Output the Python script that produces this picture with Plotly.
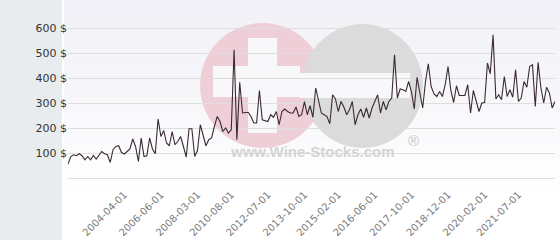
import plotly.graph_objects as go

months = """2002-08 2002-09 2002-10 2002-11 2002-12 2003-01 2003-02 2003-03 2003-04 2003-05
2003-06 2003-07 2003-08 2003-09 2003-10 2003-11 2003-12 2004-01 2004-02 2004-03
2004-04 2004-06 2004-08 2004-10 2004-12 2005-02 2005-04 2005-06 2005-08 2005-10 2005-12 2006-02 2006-04
2006-06 2006-08 2006-09 2006-11 2007-01 2007-02 2007-04 2007-05 2007-07 2007-08 2007-10 2007-11 2008-01
2008-03 2008-06 2008-08 2008-11 2009-01 2009-04 2009-06 2009-09 2009-11 2010-01 2010-03 2010-06
2010-08 2010-10 2010-11 2011-01 2011-03 2011-05 2011-06 2011-08 2011-10 2011-12 2012-01 2012-03 2012-05
2012-07 2012-08 2012-09 2012-10 2012-11 2012-12 2013-01 2013-02 2013-03 2013-05 2013-06 2013-08 2013-09
2013-10 2013-11 2013-12 2014-01 2014-02 2014-04 2014-05 2014-06 2014-08 2014-09 2014-11 2014-12
2015-02 2015-03 2015-04 2015-05 2015-06 2015-07 2015-09 2015-10 2015-11 2015-12 2016-01 2016-03 2016-04
2016-06 2016-07 2016-08 2016-09 2016-10 2016-11 2016-12 2017-01 2017-03 2017-04 2017-05 2017-07 2017-09
2017-10 2017-11 2017-12 2018-01 2018-02 2018-03 2018-04 2018-05 2018-06 2018-07 2018-09 2018-10 2018-11
2018-12 2019-01 2019-02 2019-03 2019-04 2019-05 2019-06 2019-07 2019-09 2019-10 2019-11 2019-12 2020-01
2020-02 2020-03 2020-05 2020-06 2020-07 2020-09 2020-10 2020-12 2021-01 2021-03 2021-04 2021-06
2021-07 2021-08 2021-09 2021-10 2021-11 2021-12 2022-01 2022-02 2022-03 2022-04 2022-05 2022-06 2022-07 2022-08""".split()
dates = [m + "-01" for m in months]

prices = [
    56, 86, 93, 89, 97, 89, 73, 86, 73, 90, 76, 93, 106, 97, 93, 62, 113, 126, 129, 102,
    96, 106, 116, 156, 126, 66, 160, 86, 89, 160, 116, 97, 236, 166, 190, 140, 129, 186,
    133, 146, 166, 126, 84, 197, 197, 86, 110, 213, 166, 129, 153, 160, 206, 246, 226, 186,
    200, 180, 193, 513, 153, 383, 260, 260, 263, 246, 220, 220, 350, 233, 230, 226, 253,
    243, 266, 213, 266, 276, 266, 260, 260, 284, 246, 253, 306, 253, 289, 243, 360, 306,
    260, 253, 246, 217, 333, 316, 266, 306, 284, 253, 273, 306, 213, 253, 276, 243, 280,
    240, 280, 306, 333, 260, 306, 273, 306, 320, 493, 320, 356, 353, 346, 386, 346, 276,
    403, 340, 280, 386, 457, 366, 337, 326, 346, 326, 373, 446, 350, 302, 369, 330, 330,
    330, 373, 260, 350, 313, 266, 300, 302, 460, 417, 573, 316, 333, 313, 406, 326, 353,
    323, 433, 306, 320, 386, 363, 446, 453, 286, 463, 360, 300, 363, 340, 280, 306,
]

tick_labels = ["2004-04-01", "2006-06-01", "2008-03-01", "2010-08-01", "2012-07-01",
               "2013-10-01", "2015-02-01", "2016-06-01", "2017-10-01", "2018-12-01",
               "2020-02-01", "2021-07-01"]
y_ticks = [100, 200, 300, 400, 500, 600]
y_tick_text = [f"{v} $" for v in y_ticks]

# pixel geometry of the plot area
L, R, T, B = 68, 555, 16, 178
W, H = R - L, B - T


def px(x):
    return (x - L) / W


def py(y):
    return (B - y) / H


shapes = []
# page background gradient (right part)
nb = 24
for i in range(nb):
    f = i / (nb - 1)
    r = int(241 + (255 - 241) * min(1, f * 1.25))
    b = int(247 + (255 - 247) * min(1, f * 1.25))
    shapes.append(dict(type="rect", xref="paper", yref="paper", layer="below",
                       x0=px(63), x1=px(561), y0=py(i * 10), y1=py(i * 10 + 10.5),
                       fillcolor=f"rgb({r},{r},{b})", line_width=0))
# left grey panel and separator
shapes.append(dict(type="rect", xref="paper", yref="paper", layer="below",
                   x0=px(-1), x1=px(62), y0=py(-1), y1=py(241),
                   fillcolor="#e8ecef", line_width=0))
shapes.append(dict(type="rect", xref="paper", yref="paper", layer="below",
                   x0=px(62), x1=px(64), y0=py(-1), y1=py(241),
                   fillcolor="#ffffff", line_width=0))
# watermark
shapes.append(dict(type="circle", xref="paper", yref="paper", layer="below",
                   x0=px(200), x1=px(325), y0=py(23), y1=py(148),
                   fillcolor="#efcfd7", line_width=0))
shapes.append(dict(type="circle", xref="paper", yref="paper", layer="below",
                   x0=px(302), x1=px(423), y0=py(24), y1=py(148),
                   fillcolor="#dbdbdc", line_width=0))
shapes.append(dict(type="rect", xref="paper", yref="paper", layer="below",
                   x0=px(248), x1=px(277), y0=py(38), y1=py(133),
                   fillcolor="#f8f8fb", line_width=0))
shapes.append(dict(type="rect", xref="paper", yref="paper", layer="below",
                   x0=px(213), x1=px(300), y0=py(66), y1=py(97),
                   fillcolor="#f8f8fb", line_width=0))
shapes.append(dict(type="rect", xref="paper", yref="paper", layer="below",
                   x0=px(300), x1=px(410), y0=py(73), y1=py(98),
                   fillcolor="#f8f8fb", line_width=0))

annotations = [
    dict(text="<b>www.Wine-Stocks.com</b>", xref="paper", yref="paper",
         x=px(312), y=py(162), showarrow=False,
         font=dict(family="Liberation Sans", size=15, color="#d4d4d4")),
    dict(text="®", xref="paper", yref="paper", x=px(413), y=py(140), showarrow=False,
         xanchor="center", yanchor="middle",
         font=dict(family="Liberation Sans", size=15, color="#c8c8c8")),
]

fig = go.Figure(go.Scatter(x=dates, y=prices, mode="lines",
                           line=dict(color="#3b2a33", width=1.1),
                           hoverinfo="skip"))

fig.update_layout(
    width=560, height=240,
    margin=dict(l=L, r=560 - R, t=T, b=240 - B, autoexpand=False),
    paper_bgcolor="#ffffff", plot_bgcolor="rgba(0,0,0,0)",
    showlegend=False,
    shapes=shapes, annotations=annotations,
    font=dict(family="DejaVu Sans"),
)
fig.update_xaxes(type="category", range=[0, len(dates) - 1],
                 tickmode="array", tickvals=tick_labels, ticktext=tick_labels,
                 tickangle=-45, showgrid=False, zeroline=False, showline=False,
                 ticks="", ticklabelstandoff=8,
                 tickfont=dict(size=10, color="#7a7a7a"), automargin=False)
fig.update_yaxes(range=[0, 648], tickmode="array", tickvals=y_ticks,
                 ticktext=y_tick_text,
                 showgrid=True, gridcolor="#dedede", gridwidth=1,
                 zeroline=True, zerolinecolor="#dedede", zerolinewidth=1,
                 showline=False, ticks="", tickfont=dict(size=11, color="#333333"),
                 ticklabelstandoff=0, automargin=False)

fig.write_html("out.html")
